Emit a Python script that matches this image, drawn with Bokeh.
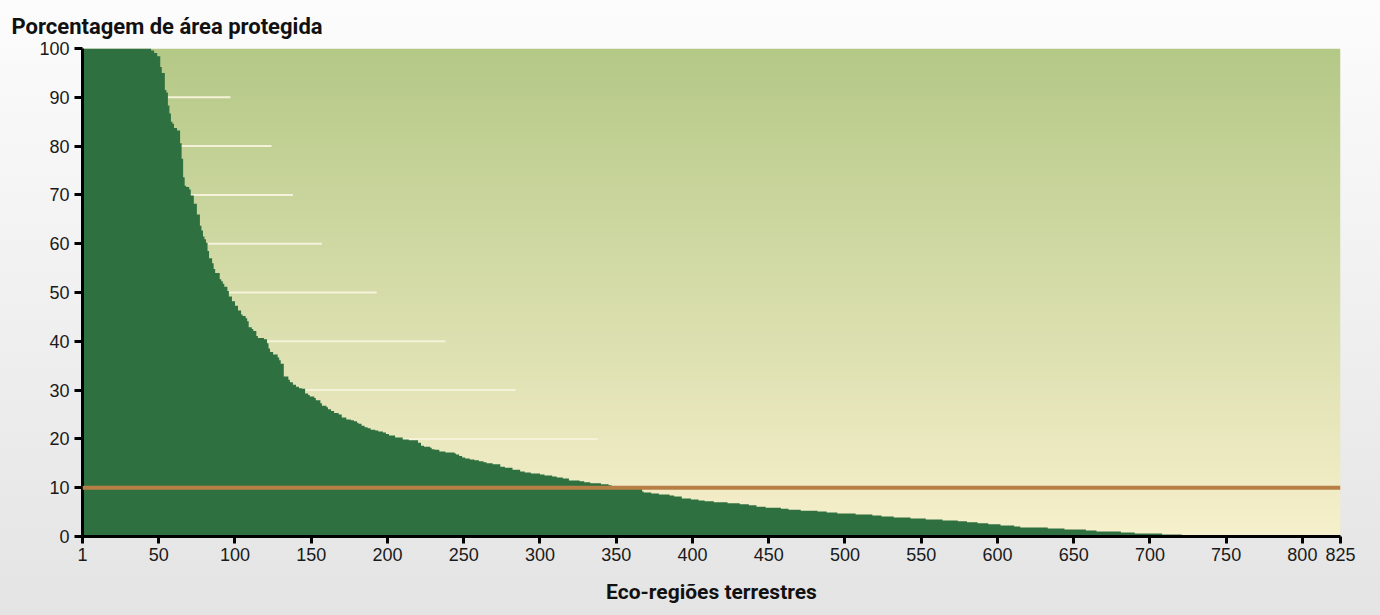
from bokeh.plotting import figure
from bokeh.models import Range1d, FixedTicker, Span
from bokeh.embed import file_html
from bokeh.resources import INLINE
import numpy as np

# ---- data ----
N_REGIONS = 825
# rank (0-based left edge) where each protected-area level starts, and the level (%)
rank_start = [0, 45, 47, 49, 51, 52, 54, 55, 56, 57, 58, 59, 60, 62, 64, 65, 66, 67, 68, 70,
              71, 73, 75, 77, 78, 79, 80, 81, 82, 83, 85, 86, 87, 90, 91, 92, 93, 95, 96, 98,
              100, 102, 104, 105, 107, 108, 109, 111, 112, 114, 115, 119, 121, 122, 123, 125, 128, 129, 130, 132,
              135, 136, 138, 140, 142, 144, 146, 148, 149, 152, 153, 156, 157, 160, 161, 163, 165, 168, 170, 173,
              176, 178, 180, 181, 183, 185, 187, 189, 192, 194, 197, 199, 201, 205, 210, 214, 220, 222, 224, 228,
              229, 231, 234, 238, 244, 245, 247, 249, 251, 254, 257, 260, 263, 265, 269, 274, 277, 282, 287, 290,
              294, 300, 303, 308, 311, 315, 319, 326, 329, 333, 340, 345, 347, 367, 368, 373, 378, 385, 388, 393,
              399, 404, 408, 414, 423, 431, 437, 442, 448, 458, 463, 471, 482, 488, 495, 507, 518, 524, 532, 543,
              553, 564, 574, 580, 587, 594, 602, 611, 615, 633, 644, 658, 665, 681, 690, 708, 721, 727]
pct = [100.0, 99.6, 99.1, 98.4, 96.2, 95.0, 91.5, 91.0, 88.3, 86.7, 85.0, 84.6, 83.7, 83.2, 80.6, 77.4, 73.6, 71.9, 71.6, 71.1,
       69.9, 68.2, 66.0, 63.7, 62.7, 61.5, 60.9, 60.2, 58.5, 57.0, 56.0, 54.8, 54.0, 52.7, 52.3, 51.8, 51.2, 50.3, 49.2, 48.2,
       47.3, 46.3, 45.5, 45.2, 44.7, 44.1, 42.9, 42.5, 42.1, 41.1, 40.7, 40.4, 39.6, 38.5, 37.8, 37.3, 36.7, 36.1, 35.4, 32.8,
       32.1, 31.6, 31.1, 30.7, 30.4, 30.3, 29.3, 29.0, 28.7, 28.4, 27.9, 27.3, 26.8, 26.5, 26.1, 25.7, 25.3, 25.0, 24.4, 24.0,
       23.8, 23.6, 23.3, 23.1, 22.7, 22.4, 22.2, 21.9, 21.7, 21.5, 21.3, 21.0, 20.7, 20.3, 19.9, 19.7, 19.2, 18.6, 18.4, 18.2,
       17.9, 17.8, 17.4, 17.2, 17.0, 16.8, 16.5, 16.2, 16.0, 15.8, 15.6, 15.4, 15.2, 15.0, 14.8, 14.3, 14.1, 13.7, 13.3, 13.1,
       12.9, 12.7, 12.5, 12.3, 12.1, 11.9, 11.5, 11.3, 11.1, 10.9, 10.7, 10.5, 9.9, 9.2, 9.0, 8.8, 8.6, 8.4, 8.2, 7.8,
       7.6, 7.4, 7.2, 7.0, 6.8, 6.6, 6.4, 6.1, 5.9, 5.7, 5.5, 5.3, 5.1, 4.9, 4.7, 4.5, 4.3, 4.1, 3.9, 3.7,
       3.5, 3.3, 3.1, 2.9, 2.7, 2.5, 2.25, 2.05, 1.85, 1.65, 1.45, 1.25, 1.0, 0.8, 0.6, 0.4, 0.2, 0.0]
target_pct = 10
grid_levels = [20, 30, 40, 50, 60, 70, 80, 90]
grid_end = [338, 284, 238, 193, 157, 138, 124, 97]
x_ticks = [0, 50, 100, 150, 200, 250, 300, 350, 400, 450, 500, 550, 600, 650, 700, 750, 800, 825]
x_tick_labels = {0: "1"}
y_ticks = [0, 10, 20, 30, 40, 50, 60, 70, 80, 90, 100]
title_text = "Porcentagem de área protegida"
x_title = "Eco-regiões terrestres"

# ---- figure ----
FONT = "Roboto"
p = figure(width=1380, height=615, x_range=Range1d(0, N_REGIONS), y_range=Range1d(0, 100),
           output_backend="svg", toolbar_location=None,
           min_border_left=82, min_border_right=40, min_border_top=48, min_border_bottom=79)
p.border_fill_color = None
p.background_fill_color = None
p.outline_line_color = None
p.styles = {"background": "linear-gradient(#fcfcfc, #e4e4e4)"}
p.grid.visible = False

# plot-area gradient (styling)
top = np.array([0xb5, 0xc9, 0x87], dtype=float)
bot = np.array([0xf7, 0xf0, 0xcc], dtype=float)
rows = 256
t = np.linspace(0, 1, rows)[:, None]
cols = bot * (1 - t) + top * t
img = np.empty((rows, 1), dtype=np.uint32)
view = img.view(dtype=np.uint8).reshape((rows, 1, 4))
view[:, 0, 0] = cols[:, 0]
view[:, 0, 1] = cols[:, 1]
view[:, 0, 2] = cols[:, 2]
view[:, 0, 3] = 255
p.image_rgba(image=[img], x=0, y=0, dw=N_REGIONS, dh=100)

# short light reference lines
p.segment(x0=[0] * len(grid_levels), y0=grid_levels, x1=grid_end, y1=grid_levels,
          line_color="#f5f2da", line_width=2)

# stepped area
edges = rank_start + [N_REGIONS]
xs, ys = [], []
for i, v in enumerate(pct):
    xs += [edges[i], edges[i + 1]]
    ys += [v, v]
p.varea(x=xs, y1=[0] * len(xs), y2=ys, fill_color="#2f7041")

# 10% target line
p.add_layout(Span(location=target_pct, dimension="width", line_color="#b77f45", line_width=4))

# title
p.title.text = title_text
p.title.align = "left"
p.title.offset = -71
p.title.standoff = 20
p.title.text_font = FONT
p.title.text_font_style = "bold"
p.title.text_font_size = "22px"
p.title.text_color = "#111111"

for ax in (p.xaxis, p.yaxis):
    ax.axis_line_color = "#000000"
    ax.axis_line_width = 3
    ax.major_tick_line_color = "#000000"
    ax.major_tick_line_width = 3
    ax.major_tick_in = 0
    ax.minor_tick_line_color = None
    ax.major_label_text_font = "Liberation Sans"
    ax.major_label_text_font_size = "18px"
    ax.major_label_text_color = "#1a1a1a"

p.xaxis.ticker = FixedTicker(ticks=x_ticks)
p.xaxis.major_label_overrides = x_tick_labels
p.xaxis.major_tick_out = 7
p.xaxis.major_label_standoff = 4
p.xaxis.axis_label = x_title
p.xaxis.axis_label_text_font = FONT
p.xaxis.axis_label_text_font_style = "bold"
p.xaxis.axis_label_text_font_size = "21px"
p.xaxis.axis_label_text_color = "#111111"
p.xaxis.axis_label_standoff = 16

p.yaxis.ticker = FixedTicker(ticks=y_ticks)
p.yaxis.major_tick_out = 8
p.yaxis.major_label_standoff = 5

open("out.html", "w").write(file_html(p, INLINE))
